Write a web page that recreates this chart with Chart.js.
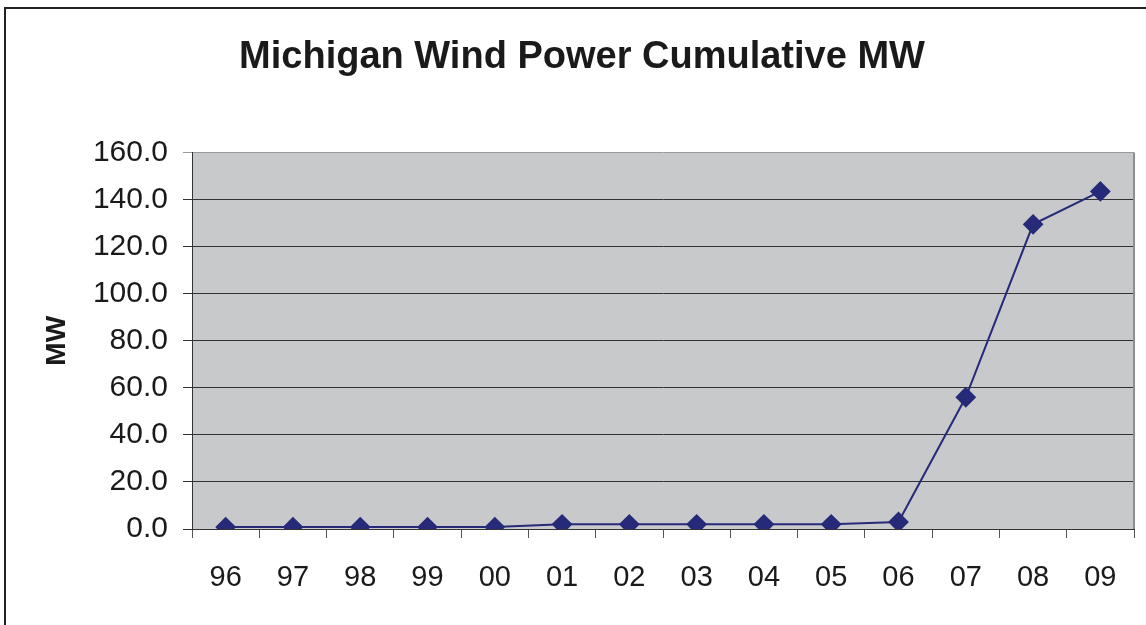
<!DOCTYPE html>
<html>
<head>
<meta charset="utf-8">
<script src="https://cdn.jsdelivr.net/npm/chart.js@4.4.0/dist/chart.umd.min.js"></script>
<style>
html,body{margin:0;padding:0;background:#fff;}
#wrap{width:1146px;height:625px;position:relative;}
</style>
</head>
<body>
<div id="wrap"><canvas id="c" width="1146" height="625"></canvas></div>
<script>
const categories = ['96','97','98','99','00','01','02','03','04','05','06','07','08','09'];
const cumulativeMW = [0.8,0.8,0.8,0.8,0.8,2.0,2.0,2.0,2.0,2.0,3.0,56.0,129.5,143.5];
const yTicks = [0,20,40,60,80,100,120,140,160];

const FONT = "'Liberation Sans', Arial, sans-serif";

const framePlugin = {
  id: 'frame',
  beforeDraw(chart) {
    const {ctx, chartArea: a} = chart;
    ctx.save();
    ctx.fillStyle = '#fff';
    ctx.fillRect(0, 0, chart.width, chart.height);
    ctx.strokeStyle = '#222';
    ctx.lineWidth = 2;
    ctx.strokeRect(5, 8, chart.width + 20, chart.height + 20);
    ctx.fillStyle = '#c8c9cb';
    ctx.fillRect(a.left, a.top, a.right - a.left, a.bottom - a.top);
    ctx.restore();
  },
  beforeDatasetsDraw(chart) {
    const {ctx, chartArea: a} = chart;
    ctx.save();
    ctx.strokeStyle = '#8e8e8e';
    ctx.lineWidth = 2;
    ctx.beginPath();
    ctx.moveTo(a.right, a.top);
    ctx.lineTo(a.right, a.bottom);
    ctx.stroke();
    ctx.restore();
  }
};

new Chart(document.getElementById('c'), {
  type: 'line',
  data: {
    labels: categories,
    datasets: [{
      data: cumulativeMW,
      borderColor: '#262a78',
      backgroundColor: '#262a78',
      borderWidth: 2,
      pointStyle: 'rectRot',
      pointRadius: 9,
      pointHoverRadius: 9,
      tension: 0,
      fill: false
    }]
  },
  options: {
    responsive: false,
    animation: false,
    devicePixelRatio: 1,
    layout: { padding: { left: 30, right: 12, top: 0, bottom: 0 } },
    plugins: {
      legend: { display: false },
      tooltip: { enabled: false },
      title: {
        display: true,
        text: 'Michigan Wind Power Cumulative MW',
        color: '#1a1a1a',
        font: { family: FONT, size: 38, weight: 'bold' },
        padding: { top: 35, bottom: 72 }
      }
    },
    scales: {
      x: {
        type: 'category',
        offset: true,
        grid: {
          offset: true,
          display: true,
          drawOnChartArea: false,
          drawTicks: true,
          tickLength: 9,
          color: '#555',
          lineWidth: 1
        },
        border: { display: true, color: '#333', width: 1 },
        ticks: {
          color: '#1a1a1a',
          font: { family: FONT, size: 29 },
          padding: 23,
          maxRotation: 0,
          autoSkip: false
        },
        afterFit(scale) { scale.height = 96; }
      },
      y: {
        min: 0,
        max: 160,
        afterBuildTicks(scale) { scale.ticks = yTicks.map(v => ({ value: v })); },
        grid: {
          display: true,
          drawOnChartArea: true,
          drawTicks: true,
          tickLength: 9,
          color: (ctx) => ctx.tick && ctx.tick.value === 160 ? '#9a9a9a' : '#333',
          lineWidth: 1
        },
        border: { display: true, color: '#333', width: 1 },
        ticks: {
          color: '#1a1a1a',
          font: { family: FONT, size: 30 },
          padding: 15,
          callback: (v) => Number(v).toFixed(1)
        },
        title: {
          display: true,
          text: 'MW',
          color: '#1a1a1a',
          font: { family: FONT, size: 28, weight: 'bold' },
          padding: { top: 10, bottom: 0 }
        },
        afterFit(scale) { scale.width = 162; }
      }
    }
  },
  plugins: [framePlugin]
});
</script>
</body>
</html>
